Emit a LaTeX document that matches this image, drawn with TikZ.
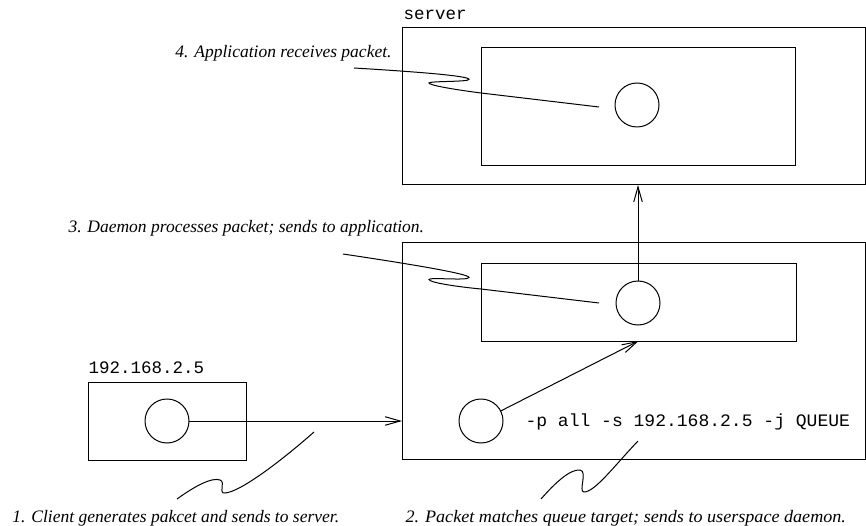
\documentclass[tikz,border=0pt]{standalone}
\usepackage{fontspec}
\setmainfont{Liberation Serif}
\setmonofont{Liberation Mono}
\usetikzlibrary{arrows.meta}
\begin{document}
\begin{tikzpicture}[x=1pt,y=-1pt, line width=1pt,
  frame/.style={draw, rectangle, inner sep=0pt, outer sep=0pt, anchor=north west},
  proc/.style={draw, circle, minimum size=44pt, inner sep=0pt, outer sep=0pt},
  note/.style={font=\fontsize{17.5}{20}\selectfont\itshape, inner sep=0pt},
  code/.style={font=\fontsize{17.5}{20}\selectfont\ttfamily, inner sep=0pt},
  flow/.style={-{Straight Barb[length=15pt,width=8.5pt]}},
  callout/.style={line width=1pt}]
\useasboundingbox (0,0) rectangle (866,526);

% server host
\node[frame, minimum width=463pt, minimum height=157pt] (srv) at (402,28) {};
\node[frame, minimum width=314pt, minimum height=118pt] (srvin) at (481,48) {};
\node[proc] (app) at (637,105) {};
\node[code, anchor=base west] (srvname) at (403,20) {server};

% firewall host with the userspace daemon
\node[frame, minimum width=463pt, minimum height=216pt] (fw) at (402,243) {};
\node[frame, minimum width=315pt, minimum height=77pt] (fwin) at (481,264) {};
\node[proc] (daemon) at (638,303) {};
\node[proc] (queue) at (481,421) {};
\node[code, anchor=base west] (rule) at (525,426) {\scalebox{1.03}[1]{-p all -s 192.168.2.5 -j QUEUE}};

% client host
\node[frame, minimum width=158pt, minimum height=78pt] (client) at (88,382) {};
\node[proc] (pkt) at (167,421) {};
\node[code, anchor=base west] (clientname) at (88,373) {192.168.2.5};

% step descriptions
\node[note, anchor=base west] (n1) at (12,522) {1. Client generates pakcet and sends to server.};
\node[note, anchor=base west] (n2) at (405,522) {\scalebox{1.035}[1]{2. Packet matches queue target; sends to userspace daemon.}};
\node[note, anchor=base west] (n3) at (68,233) {3. Daemon processes packet; sends to application.};
\node[note, anchor=base east] (n4) at (392,58) {4. Application receives packet.};

% packet flow
\draw[flow] (pkt) -- (pkt -| fw.west);
\draw[flow] (queue) -- (fwin.south);
\draw[flow] (daemon) -- (daemon |- srv.south);

% callout lines
\coordinate (c1a) at (314,432);
\coordinate (c1b) at (177,499);
\draw[callout] (c1a) .. controls (280,462) and (240,492) .. (225,493)
  .. controls (218,494) and (226,482) .. (220,480)
  .. controls (212,477) and (195,486) .. (c1b);

\coordinate (c2a) at (638,441);
\coordinate (c2b) at (541,499);
\draw[callout] (c2a) .. controls (615,465) and (595,492) .. (584,492)
  .. controls (578,492) and (588,471) .. (580,470)
  .. controls (570,469) and (555,483) .. (c2b);

\coordinate (c3a) at (343,254);
\coordinate (c3b) at (599,303);
\draw[callout] (c3a) .. controls (410,264) and (470,274) .. (469,277.5)
  .. controls (468,281) and (429,277) .. (429,279.5)
  .. controls (429,282) and (450,286) .. (481,289) -- (c3b);

\coordinate (c4a) at (354,68);
\coordinate (c4b) at (599,107);
\draw[callout] (c4a) .. controls (420,72) and (470,76) .. (469,79.5)
  .. controls (468,82) and (429,81) .. (429,83)
  .. controls (429,85) and (450,89) .. (481,93) -- (c4b);
\end{tikzpicture}
\end{document}
